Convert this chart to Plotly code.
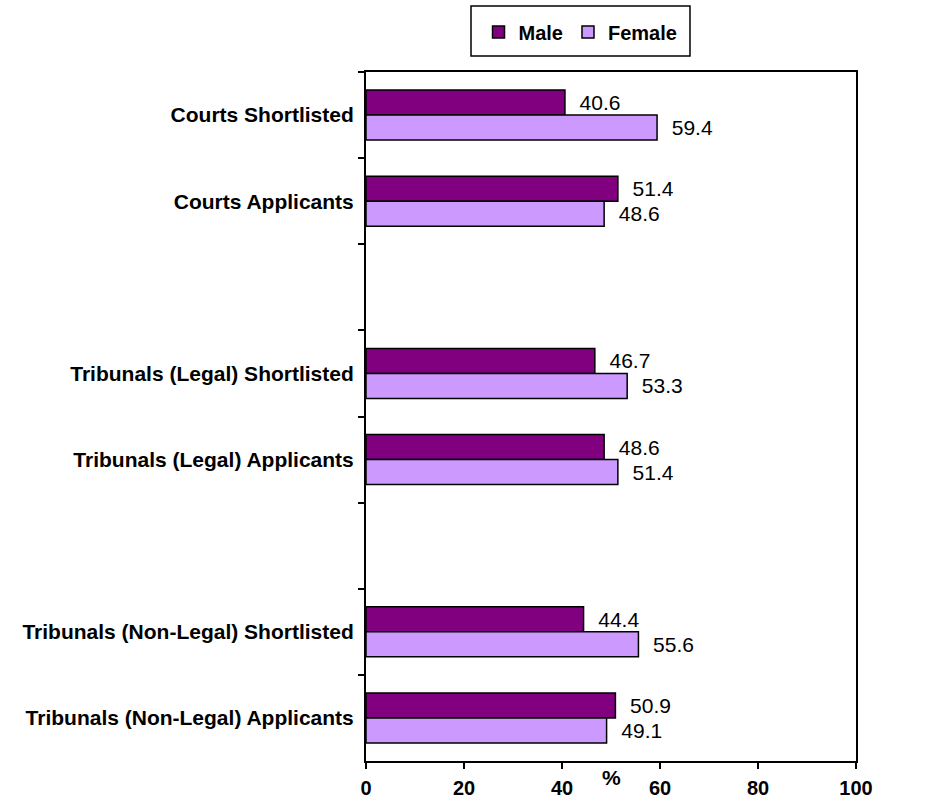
import plotly.graph_objects as go

# Categories top to bottom; blank entries leave the gaps between groups
categories = [
    "Courts Shortlisted",
    "Courts Applicants",
    " ",
    "Tribunals (Legal) Shortlisted",
    "Tribunals (Legal) Applicants",
    "  ",
    "Tribunals (Non-Legal) Shortlisted",
    "Tribunals (Non-Legal) Applicants",
]
male = [40.6, 51.4, None, 46.7, 48.6, None, 44.4, 50.9]
female = [59.4, 48.6, None, 53.3, 51.4, None, 55.6, 49.1]
x_ticks = [0, 20, 40, 60, 80, 100]

FONT = "Arial, Liberation Sans, sans-serif"


def labels(values):
    return ["" if v is None else "  {:.1f}".format(v) for v in values]


fig = go.Figure()
fig.add_trace(go.Bar(
    name="Male", y=categories, x=male, orientation="h",
    marker=dict(color="#800080", line=dict(color="#000000", width=1.5)),
    text=labels(male), textposition="outside", cliponaxis=False,
    textfont=dict(family=FONT, size=21, color="#000000"),
    constraintext="none",
))
fig.add_trace(go.Bar(
    name="Female", y=categories, x=female, orientation="h",
    marker=dict(color="#CC99FF", line=dict(color="#000000", width=1.5)),
    text=labels(female), textposition="outside", cliponaxis=False,
    textfont=dict(family=FONT, size=21, color="#000000"),
    constraintext="none",
))

fig.update_layout(
    width=952, height=801,
    margin=dict(l=366, r=96, t=72, b=40, autoexpand=False),
    paper_bgcolor="white", plot_bgcolor="white",
    barmode="group", bargap=0.42, bargroupgap=0,
    font=dict(family=FONT, color="#000000"),
    showlegend=True,
    legend=dict(
        orientation="h", x=0.4378, xanchor="center", y=1.0580, yanchor="middle",
        borderwidth=0, bgcolor="rgba(0,0,0,0)",
        font=dict(family=FONT, size=20, color="#000000", weight="bold"),
        itemwidth=30, traceorder="normal",
    ),
    # legend frame
    shapes=[dict(
        type="rect", xref="paper", yref="paper",
        x0=0.2143, x1=0.6612, y0=1.0232, y1=1.0958,
        line=dict(color="#000000", width=1.5), fillcolor="white", layer="below",
    )],
    xaxis=dict(
        range=[0, 100], tickvals=x_ticks, ticktext=[str(t) for t in x_ticks],
        showgrid=False, zeroline=False, automargin=False,
        showline=True, linecolor="#000000", linewidth=2, mirror=True,
        ticks="outside", ticklen=6, tickwidth=2, tickcolor="#000000",
        tickfont=dict(family=FONT, size=20, color="#000000", weight="bold"),
        ticklabelstandoff=2,
    ),
    yaxis=dict(
        type="category", categoryorder="array", categoryarray=categories,
        autorange="reversed", tickson="boundaries", automargin=False,
        showgrid=False, zeroline=False,
        showline=True, linecolor="#000000", linewidth=2, mirror=True,
        ticks="outside", ticklen=6, tickwidth=2, tickcolor="#000000",
        tickfont=dict(family=FONT, size=21, color="#000000", weight="bold"),
        ticklabelstandoff=6,
    ),
    annotations=[dict(
        text="<b>%</b>", xref="paper", yref="paper", x=0.5, y=-0.024,
        xanchor="center", yanchor="middle", showarrow=False,
        font=dict(family=FONT, size=21, color="#000000"),
    )],
)

fig.write_html("out.html")
